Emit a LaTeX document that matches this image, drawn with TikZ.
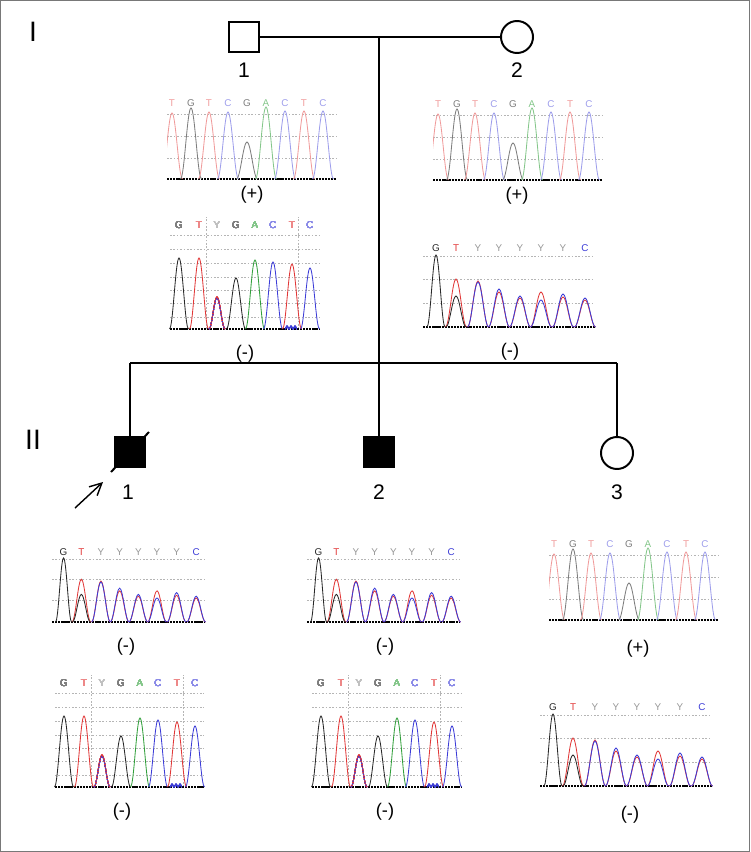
\documentclass[tikz,border=0pt]{standalone}
\usepackage{fontspec}
\setmainfont{Liberation Sans}
\usetikzlibrary{arrows.meta,positioning}
\definecolor{basered}{RGB}{225,55,55}
\definecolor{baseblue}{RGB}{60,60,215}
\definecolor{basegreen}{RGB}{50,160,60}
\definecolor{baseblack}{RGB}{40,40,40}
\definecolor{basegray}{RGB}{150,150,150}
\definecolor{framegray}{RGB}{120,120,120}
\colorlet{wtred}{basered!50}
\colorlet{wtblue}{baseblue!50}
\colorlet{wtgreen}{basegreen!60}
\colorlet{wtblack}{baseblack!60}
\newcommand\peak[4]{\draw[trace,#1] plot[domain=-1:1,samples=17,smooth] ({#2+#4*\x},{#3*(0.5+0.5*cos(180*\x))});}
\tikzset{male/.style={rectangle,draw=black,line width=1.4pt,minimum size=0.76cm,inner sep=0pt},
  female/.style={circle,draw=black,line width=1.4pt,minimum size=0.8cm,inner sep=0pt},
  affected/.style={fill=black},
  kin/.style={draw=black,line width=1pt},
  genlabel/.style={font=\fontsize{20}{24}\selectfont},
  idlabel/.style={font=\fontsize{15}{18}\selectfont},
  result/.style={font=\fontsize{13}{16}\selectfont},
  baselabel/.style={font=\fontsize{7}{8}\selectfont,inner sep=0pt},
  trace/.style={line width=0.6pt},
  gridrule/.style={draw=basegray!70,line width=0.4pt,dash pattern=on 1.2pt off 1.2pt},
  axisrule/.style={draw=black,line width=1.3pt,dash pattern=on 1.6pt off 0.6pt},
  pics/wtchart/.style={code={
    \begin{scope}[yscale=-1]
    \clip (0,-3) rectangle (170,86);
    \foreach \h in {21,43,65} \draw[gridrule] (0,\h) -- (170,\h);
    \draw[axisrule] (0,0) -- (170,0);
    \foreach \px/\ph/\pc/\pb [count=\i] in {5/66/wtred/T,24/71/wtblack/G,42/67/wtred/T,61/67/wtblue/C,80/37/wtblack/G,99/72/wtgreen/A,118/68/wtblue/C,137/68/wtred/T,156/68/wtblue/C}{
      \peak{\pc}{\px}{\ph}{10.5}
      \node[baselabel,text=\pc] (b\i) at (\px,76) {\pb};}
    \end{scope}}},
  pics/hetA/.style={code={
    \begin{scope}[yscale=-1]
    \foreach \h in {12,26,39,52,66,80,94} \draw[gridrule] (0,\h) -- (149,\h);
    \foreach \v in {36,128} \draw[gridrule] (\v,0) -- (\v,112);
    \draw[axisrule] (0,0) -- (149,0);
    \foreach \px/\ph/\pc in {9/71/baseblack,29/71/basered,66/51/baseblack,85/69/basegreen,103/67/baseblue,122/65/basered,140/61/baseblue}
      \peak{\pc}{\px}{\ph}{9.5}
    \peak{basered}{47}{32}{8}
    \peak{baseblue,dash pattern=on 1pt off 1pt}{47}{31}{8}
    \foreach \bx in {117,121,125} \peak{baseblue}{\bx}{3}{2}
    \foreach \px/\pc/\pb [count=\i] in {9/baseblack/G,29/basered/T,47/basegray/Y,66/baseblack/G,85/basegreen/A,103/baseblue/C,122/basered/T,140/baseblue/C}
      \node[baselabel,text=\pc!60] (b\i) at (\px,104) {\pb};
    \end{scope}}},
  pics/hetB/.style={code={
    \begin{scope}[yscale=-1]
    \foreach \h in {24,48,71} \draw[gridrule] (0,\h) -- (172,\h);
    \draw[axisrule] (0,0) -- (172,0);
    \peak{baseblack}{13}{72}{9}
    \peak{basered}{33}{48}{10.5}
    \peak{baseblack}{33}{31}{10}
    \foreach \px/\hr/\hb in {55/46/45,76/35/38,97/29/31,118/35/27,140/30/33,162/27/29}{
      \peak{basered}{\px}{\hr}{10.5}
      \peak{baseblue}{\px}{\hb}{10.5}}
    \foreach \px/\pc/\pb [count=\i] in {13/baseblack/G,33/basered/T,55/basegray/Y,76/basegray/Y,97/basegray/Y,118/basegray/Y,140/basegray/Y,162/baseblue/C}
      \node[baselabel,text=\pc] (b\i) at (\px,79) {\pb};
    \end{scope}}}}
\begin{document}
\begin{tikzpicture}[x=0.025cm,y=-0.025cm]
\useasboundingbox (0,0) rectangle (750,852);
\draw[framegray,line width=0.8pt] (0.6,0.6) rectangle (749.4,851.4);

% generation I
\node[genlabel] (genI) at (33,32) {I};
\node[male] (I1) at (244,37) {};
\node[female] (I2) at (517,37) {};
\node[idlabel] (lI1) at (244,70) {1};
\node[idlabel] (lI2) at (517,70) {2};
\coordinate (mate) at (379,37);
\coordinate (sibs) at (379,363);
\draw[kin] (I1) -- (I2);
\draw[kin] (mate) -- (sibs);

% generation II
\node[genlabel] (genII) at (33,440) {II};
\node[male,affected] (II1) at (130,452) {};
\node[male,affected] (II2) at (379,452) {};
\node[female] (II3) at (617,453) {};
\node[idlabel] (lII1) at (128,492) {1};
\node[idlabel] (lII2) at (379,492) {2};
\node[idlabel] (lII3) at (617,492) {3};
\coordinate (sib1) at (130,363);
\coordinate (sib3) at (617,363);
\draw[kin] (sib1) -- (sib3);
\draw[kin] (sib1) -- (II1);
\draw[kin] (sibs) -- (II2);
\draw[kin] (sib3) -- (II3);
\coordinate (dead1) at (111,472);
\coordinate (dead2) at (149,432);
\draw[kin,line width=1.4pt] (dead1) -- (dead2);
\coordinate (probtail) at (75,508);
\coordinate (probtip) at (103,482);
\draw[kin,-{Straight Barb[length=3mm,width=3mm]}] (probtail) -- (probtip);

% sequencing traces
\pic (wtI1) at (167,179) {wtchart};
\node[result] (rI1a) at (252,195) {(+)};
\pic (hetAI1) at (170,329) {hetA};
\node[result] (rI1b) at (245,354) {(-)};
\pic (wtI2) at (433,180) {wtchart};
\node[result] (rI2a) at (517,196) {(+)};
\pic (hetBI2) at (423,327) {hetB};
\node[result] (rI2b) at (510,352) {(-)};

\pic[scale=0.89] (hetBII1) at (52,622) {hetB};
\node[result] (rII1a) at (126,647) {(-)};
\pic[scale=0.89] (hetBII2) at (307,622) {hetB};
\node[result] (rII2a) at (385,647) {(-)};
\pic (wtII3) at (549,620) {wtchart};
\node[result] (rII3a) at (638,649) {(+)};
\pic (hetAII1) at (55,787) {hetA};
\node[result] (rII1b) at (122,812) {(-)};
\pic (hetAII2) at (312,787) {hetA};
\node[result] (rII2b) at (385,812) {(-)};
\pic (hetBII3) at (540,786) {hetB};
\node[result] (rII3b) at (630,815) {(-)};

\end{tikzpicture}
\end{document}
